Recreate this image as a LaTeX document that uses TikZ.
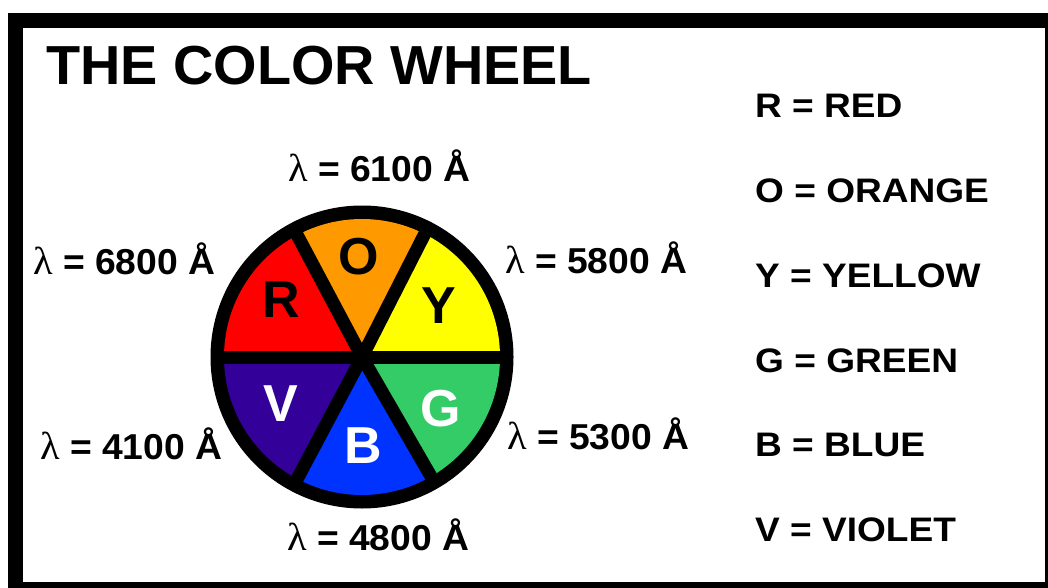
\documentclass[tikz,border=0pt]{standalone}
\usepackage{fontspec}
\usepackage{graphicx}
\setmainfont{Liberation Sans}
\newfontfamily\lamfont{Liberation Serif}
\definecolor{wRed}{RGB}{255,0,0}
\definecolor{wOrange}{RGB}{255,153,0}
\definecolor{wYellow}{RGB}{255,255,0}
\definecolor{wGreen}{RGB}{51,204,102}
\definecolor{wBlue}{RGB}{0,51,255}
\definecolor{wViolet}{RGB}{51,0,153}
\tikzset{
  title/.style={anchor=base west, inner sep=0pt, font=\fontsize{55}{60}\selectfont\bfseries},
  legend/.style={anchor=base west, inner sep=0pt, font=\fontsize{34}{40}\selectfont\bfseries},
  wave/.style={anchor=base west, inner sep=0pt, font=\fontsize{36}{40}\selectfont\bfseries},
  letter/.style={anchor=center, inner sep=0pt, font=\fontsize{52}{56}\selectfont\bfseries},
  divider/.style={line width=13pt, black}
}
\newcommand{\lam}{{\lamfont\mdseries\fontsize{39}{40}\selectfont λ}}
\newcommand{\wide}[1]{\scalebox{1.09}[1]{#1}}
\newcommand{\wwide}[1]{\scalebox{1.035}[1]{#1}}
\newcommand{\twide}[1]{\scalebox{1.015}[1]{#1}}
\begin{document}
\begin{tikzpicture}[x=1pt,y=1pt]
\useasboundingbox (0,0) rectangle (1048,-588);
% frame
\fill[black] (8,-13) rectangle (1048,-588);
\fill[white] (22.5,-28) rectangle (1045,-582);
% title
\node[title] (title) at (46,-85) {\twide{THE COLOR WHEEL}};
% wheel
\coordinate (c) at (362,-357);
\fill[black] (c) circle[radius=151.5];
\fill[wYellow] (c) -- ++(0:138) arc[start angle=0, end angle=63, radius=138] -- cycle;
\fill[wOrange] (c) -- ++(63:138) arc[start angle=63, end angle=118, radius=138] -- cycle;
\fill[wRed] (c) -- ++(118:138) arc[start angle=118, end angle=180, radius=138] -- cycle;
\fill[wViolet] (c) -- ++(180:138) arc[start angle=180, end angle=242, radius=138] -- cycle;
\fill[wBlue] (c) -- ++(242:138) arc[start angle=242, end angle=300, radius=138] -- cycle;
\fill[wGreen] (c) -- ++(300:138) arc[start angle=300, end angle=360, radius=138] -- cycle;
\foreach \a in {0,63,118,180,242,300}{
  \draw[divider] (c) -- ++(\a:145);
}
% wheel letters
\node[letter, text=black] (lO) at (359,-257) {O};
\node[letter, text=black] (lR) at (281,-300) {R};
\node[letter, text=black] (lY) at (439,-306) {Y};
\node[letter, text=white] (lV) at (281,-404) {V};
\node[letter, text=white] (lB) at (363,-446) {B};
\node[letter, text=white] (lG) at (441,-409) {G};
% wavelength labels
\node[wave] (w6100) at (288,-182) {\wwide{\lam\ = 6100 Å}};
\node[wave] (w6800) at (33,-274) {\wwide{\lam\ = 6800 Å}};
\node[wave] (w5800) at (505,-273) {\wwide{\lam\ = 5800 Å}};
\node[wave] (w4100) at (40,-459) {\wwide{\lam\ = 4100 Å}};
\node[wave] (w5300) at (507,-449) {\wwide{\lam\ = 5300 Å}};
\node[wave] (w4800) at (287,-550) {\wwide{\lam\ = 4800 Å}};
% legend
\node[legend] (kR) at (755,-118) {\wide{R = RED}};
\node[legend] (kO) at (755,-202) {\wide{O = ORANGE}};
\node[legend] (kY) at (755,-287) {\wide{Y = YELLOW}};
\node[legend] (kG) at (755,-372) {\wide{G = GREEN}};
\node[legend] (kB) at (755,-456) {\wide{B = BLUE}};
\node[legend] (kV) at (755,-541) {\wide{V = VIOLET}};
\end{tikzpicture}
\end{document}
